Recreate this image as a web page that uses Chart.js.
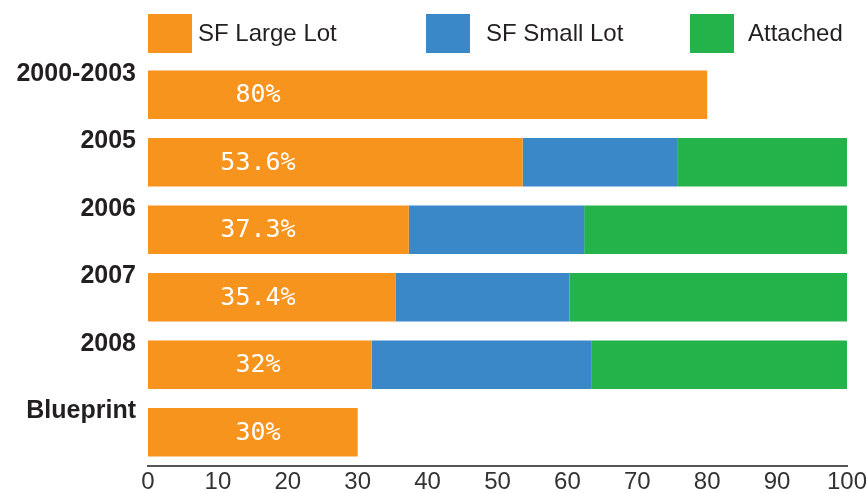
<!DOCTYPE html>
<html lang="en">
<head>
  <meta charset="UTF-8">
  <title>Housing Mix</title>
  <script src="https://cdn.jsdelivr.net/npm/chart.js"></script>
  <style>
    body {
      margin: 0;
      padding: 0;
      background-color: #fff;
    }
    .container {
      position: relative;
      width: 866px;
      height: 493px;
    }
  </style>
</head>
<body>
  <div class="container">
    <canvas id="housingChart"></canvas>
  </div>

  <script>
    var categories = ['2000-2003', '2005', '2006', '2007', '2008', 'Blueprint'];
    var seriesNames = ['SF Large Lot', 'SF Small Lot', 'Attached'];
    var largeLot = [80, 53.6, 37.3, 35.4, 32, 30];
    var smallLot = [0, 22.1, 25.1, 24.9, 31.4, 0];
    var attached = [0, 24.3, 37.6, 39.7, 36.6, 0];
    var xTicks = [0, 10, 20, 30, 40, 50, 60, 70, 80, 90, 100];

    var colors = ['#f7941e', '#3a88c8', '#24b24b'];
    var textColor = '#231f20';

    // legend drawn across the top with its own spacing
    var legendBoxX = [148, 426, 690];
    var legendTextX = [198, 486, 748];

    var topLegend = {
      id: 'topLegend',
      afterDraw: function(chart) {
        var ctx = chart.ctx;
        ctx.save();
        ctx.font = '24px "Liberation Sans", Arial, sans-serif';
        ctx.textBaseline = 'middle';
        ctx.textAlign = 'left';
        chart.data.datasets.forEach(function(ds, i) {
          ctx.fillStyle = ds.backgroundColor;
          ctx.fillRect(legendBoxX[i], 14, 44, 39);
          ctx.fillStyle = textColor;
          ctx.fillText(ds.label, legendTextX[i], 34);
        });
        ctx.restore();
      }
    };

    // white percentage labels inside the orange bars
    var barLabels = {
      id: 'barLabels',
      afterDatasetsDraw: function(chart) {
        var ctx = chart.ctx;
        var meta = chart.getDatasetMeta(0);
        var x = chart.chartArea.left + 110;
        ctx.save();
        ctx.font = '25px "DejaVu Sans Mono", monospace';
        ctx.fillStyle = '#fff';
        ctx.textAlign = 'center';
        ctx.textBaseline = 'middle';
        meta.data.forEach(function(bar, i) {
          ctx.fillText(largeLot[i] + '%', x, bar.y + 1);
        });
        ctx.restore();
      }
    };

    var ctx = document.getElementById('housingChart').getContext('2d');
    var chart = new Chart(ctx, {
      type: 'bar',
      data: {
        labels: categories,
        datasets: [
          { label: seriesNames[0], data: largeLot, backgroundColor: colors[0] },
          { label: seriesNames[1], data: smallLot, backgroundColor: colors[1] },
          { label: seriesNames[2], data: attached, backgroundColor: colors[2] }
        ]
      },
      options: {
        indexAxis: 'y',
        responsive: true,
        maintainAspectRatio: false,
        animation: false,
        layout: {
          autoPadding: false,
          padding: { top: 61, right: 19, bottom: 0, left: 0 }
        },
        datasets: {
          bar: {
            barPercentage: 0.72,
            categoryPercentage: 1,
            borderWidth: 0
          }
        },
        plugins: {
          legend: { display: false },
          tooltip: { enabled: false }
        },
        scales: {
          x: {
            stacked: true,
            min: 0,
            max: 100,
            afterBuildTicks: function(scale) {
              scale.ticks = xTicks.map(function(v) { return { value: v }; });
            },
            afterFit: function(scale) {
              scale.height = 26;
              scale.paddingLeft = 0;
              scale.paddingRight = 0;
            },
            grid: { display: false, drawTicks: false },
            border: { display: true, color: '#555', width: 2 },
            ticks: {
              padding: 2,
              color: '#333',
              font: { family: '"Liberation Sans", Arial, sans-serif', size: 24 }
            }
          },
          y: {
            stacked: true,
            afterFit: function(scale) {
              scale.width = 148;
            },
            grid: { display: false, drawTicks: false },
            border: { display: false },
            ticks: {
              padding: 12,
              labelOffset: -21,
              color: textColor,
              font: { family: '"Liberation Sans", Arial, sans-serif', size: 25, weight: 'bold' }
            }
          }
        }
      },
      plugins: [topLegend, barLabels]
    });
  </script>
</body>
</html>
